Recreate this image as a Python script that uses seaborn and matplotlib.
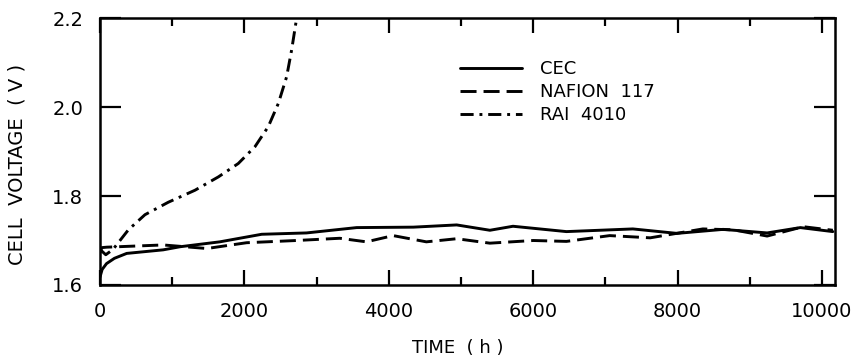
import matplotlib
matplotlib.use("Agg")
import matplotlib.pyplot as plt
from matplotlib.ticker import MultipleLocator
from matplotlib.lines import Line2D
import seaborn as sns
import pandas as pd

# ---- data ----
cec_t = [0, 30, 90, 200, 370, 875, 1110, 1660, 2240, 2860, 3555, 4340, 4940,
         5400, 5720, 6460, 7380, 7990, 8630, 9240, 9700, 10150]
cec_v = [1.618, 1.635, 1.648, 1.660, 1.671, 1.679, 1.686, 1.697, 1.714, 1.717,
         1.729, 1.730, 1.735, 1.723, 1.732, 1.720, 1.726, 1.716, 1.725, 1.717,
         1.729, 1.720]

naf_t = [0, 25, 95, 875, 1480, 2030, 2720, 3320, 3690, 4060, 4520, 4940, 5400,
         6000, 6460, 7060, 7620, 8350, 8770, 9240, 9740, 10150]
naf_v = [1.672, 1.684, 1.685, 1.690, 1.682, 1.695, 1.700, 1.705, 1.697, 1.711,
         1.697, 1.704, 1.694, 1.700, 1.698, 1.711, 1.706, 1.726, 1.724, 1.710,
         1.731, 1.723]

rai_t = [0, 80, 180, 393, 623, 946, 1316, 1640, 1915, 2147, 2331, 2470, 2585,
         2654, 2715, 2750]
rai_v = [1.680, 1.668, 1.680, 1.724, 1.758, 1.786, 1.813, 1.843, 1.873, 1.911,
         1.956, 2.008, 2.068, 2.128, 2.191, 2.230]

series_names = ["CEC", "NAFION  117", "RAI  4010"]
x_ticks = [0, 2000, 4000, 6000, 8000, 10000]
y_ticks = [1.6, 1.8, 2.0, 2.2]

df = pd.concat([
    pd.DataFrame({"t": cec_t, "v": cec_v, "series": series_names[0]}),
    pd.DataFrame({"t": naf_t, "v": naf_v, "series": series_names[1]}),
    pd.DataFrame({"t": rai_t, "v": rai_v, "series": series_names[2]}),
], ignore_index=True)

sns.set_style("ticks")
plt.rcParams["font.family"] = ["DejaVu Sans"]
plt.rcParams["text.color"] = "black"
plt.rcParams["axes.labelcolor"] = "black"
plt.rcParams["xtick.color"] = "black"
plt.rcParams["ytick.color"] = "black"
plt.rcParams["axes.edgecolor"] = "black"

fig = plt.figure(figsize=(8.56, 3.58), dpi=100)
ax = fig.add_axes([100 / 856, 1 - 285 / 358, 735 / 856, 267 / 358])

LW = 2.1
dash_map = {
    series_names[0]: "",
    series_names[1]: (5.5, 2.4),
    series_names[2]: (4.5, 2.0, 1, 2.0),
}
sns.lineplot(data=df, x="t", y="v", style="series", dashes=dash_map,
             color="black", linewidth=LW, estimator=None, sort=False,
             legend=False, ax=ax)

ax.set_xlim(0, 10180)
ax.set_ylim(1.6, 2.2)
ax.set_xticks(x_ticks)
ax.set_yticks(y_ticks)
ax.set_yticklabels(["1.6", "1.8", "2.0", "2.2"])
ax.xaxis.set_minor_locator(MultipleLocator(1000))

for s in ax.spines.values():
    s.set_linewidth(1.8)
    s.set_visible(True)
    s.set_color("black")

ax.tick_params(axis="x", which="major", direction="in", length=11, width=1.6,
               top=True, labelsize=14, pad=12, colors="black")
ax.tick_params(axis="x", which="minor", direction="in", length=6, width=1.6,
               top=True, colors="black")
ax.tick_params(axis="y", which="major", direction="in", length=15, width=1.6,
               right=True, labelsize=14, pad=12, colors="black")

ax.set_xlabel("TIME  ( h )", fontsize=13)
ax.xaxis.set_label_coords((458 - 100) / 735, -(339 - 285) / 267)
ax.set_ylabel("CELL  VOLTAGE  ( V )", fontsize=14)
ax.yaxis.set_label_coords(-(100 - 27) / 735, (285 - 164) / 267)

handles = [
    Line2D([], [], color="black", lw=LW),
    Line2D([], [], color="black", lw=LW, dashes=dash_map[series_names[1]]),
    Line2D([], [], color="black", lw=LW, dashes=dash_map[series_names[2]]),
]
ax.legend(handles, series_names, loc="upper left",
          bbox_to_anchor=((460 - 100) / 735, (285 - 60) / 267), frameon=False,
          fontsize=13, handlelength=3.45, handletextpad=1.0, labelspacing=0.28,
          borderpad=0, borderaxespad=0)

fig.savefig("out.png", dpi=100)
